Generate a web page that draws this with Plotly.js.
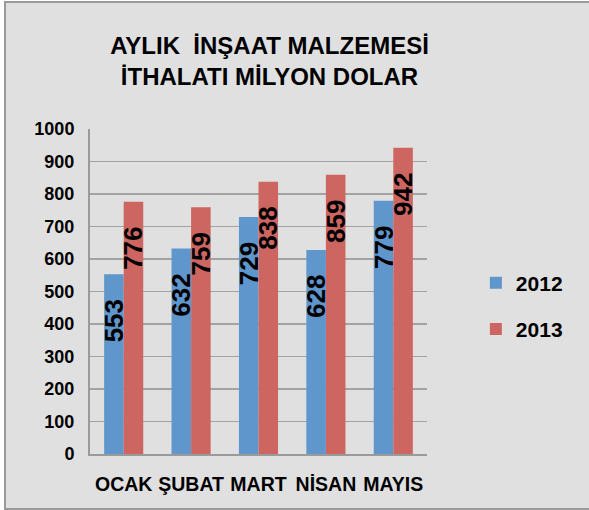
<!DOCTYPE html>
<html><head><meta charset="utf-8">
<script src="https://cdn.plot.ly/plotly-3.0.1.min.js"></script>
<style>
html,body{margin:0;padding:0;background:#fff;}
#frame{position:absolute;left:4px;top:1px;width:585px;height:509px;border:2px solid #9a9a9a;border-right:none;box-sizing:border-box;background:#e0e0e0;}
#chart{width:583px;height:505px;}
</style></head>
<body><div id="frame"><div id="chart"></div></div>
<script>
const months = ["OCAK","ŞUBAT","MART","NİSAN","MAYIS"];
const values2012 = [553,632,729,628,779];
const values2013 = [776,759,838,859,942];
const seriesNames = ["2012","2013"];
const yTicks = [0,100,200,300,400,500,600,700,800,900,1000];

const pad = "\u00a0\u00a0\u00a0";
function barTrace(name, vals, color, group){
  return {type:"bar", name:name, x:months, y:vals, marker:{color:color},
    text: vals.map(v=>String(v)), texttemplate:"%{text}"+pad, textposition:"inside",
    insidetextanchor:"end", textangle:-90, constraintext:"none",
    textfont:{family:"Liberation Sans, Arial, sans-serif", size:26, color:"#000", weight:"bold"},
    legendgroup:group, hoverinfo:"skip"};
}
const data = [
  barTrace(seriesNames[0], values2012, "#5f96cc", "a"),
  barTrace(seriesNames[1], values2013, "#cd6560", "b")
];
const font = "Liberation Sans, Arial, sans-serif";
const layout = {
  width:583, height:505,
  margin:{l:84, r:162, t:126, b:54},
  paper_bgcolor:"#e0e0e0", plot_bgcolor:"#e0e0e0",
  bargap:0.42, bargroupgap:0, barmode:"group",
  title:{text:"AYLIK  İNŞAAT MALZEMESİ<br>İTHALATI MİLYON DOLAR",
    font:{family:font, size:24, color:"#000", weight:"bold"},
    x:0.452, xanchor:"center", xref:"container", y:0.9, yanchor:"top", yref:"container"},
  xaxis:{tickfont:{family:font, size:19.5, color:"#000", weight:"bold"}, tickangle:0, showline:true, linecolor:"#9a9a9a", linewidth:2,
    ticks:"", ticklen:0, fixedrange:true, showgrid:false, zeroline:false, ticklabelstandoff:12},
  yaxis:{range:[0,1000], tickvals:yTicks, ticktext:yTicks.map(String), tickfont:{family:font, size:18, color:"#000", weight:"bold"},
    showline:true, linecolor:"#9a9a9a", linewidth:2, gridcolor:"#a3a3a3", gridwidth:1.5, zeroline:false, ticks:"", ticklabelstandoff:10},
  showlegend:true,
  legend:{x:1.145, xanchor:"left", y:0.455, yanchor:"middle", bgcolor:"rgba(0,0,0,0)",
    font:{family:font, size:21, color:"#000", weight:"bold"}, tracegroupgap:16, itemwidth:30}
};
Plotly.newPlot("chart", data, layout, {staticPlot:true, displayModeBar:false});
</script></body></html>
